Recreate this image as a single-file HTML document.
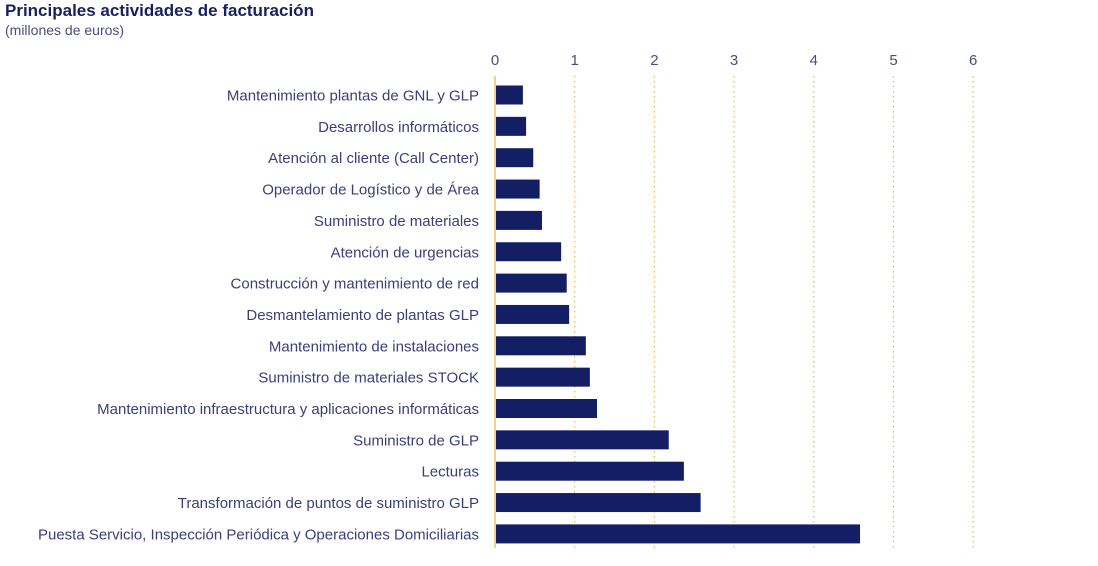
<!DOCTYPE html>
<html><head><meta charset="utf-8"><style>
body{margin:0;background:#fff;width:1098px;height:561px;overflow:hidden;font-family:"Liberation Sans",sans-serif}
</style></head><body>
<svg width="1098" height="561">
<text x="5" y="16" font-size="17" font-weight="bold" fill="#1a1f5e">Principales actividades de facturación</text>
<text x="5" y="35" font-size="14" fill="#4a4f7a">(millones de euros)</text>
<g id="g"></g>
</svg>
<script>
const categories=["Mantenimiento plantas de GNL y GLP","Desarrollos informáticos","Atención al cliente (Call Center)","Operador de Logístico y de Área","Suministro de materiales","Atención de urgencias","Construcción y mantenimiento de red","Desmantelamiento de plantas GLP","Mantenimiento de instalaciones","Suministro de materiales STOCK","Mantenimiento infraestructura y aplicaciones informáticas","Suministro de GLP","Lecturas","Transformación de puntos de suministro GLP","Puesta Servicio, Inspección Periódica y Operaciones Domiciliarias"];
const values=[0.35,0.39,0.48,0.56,0.59,0.83,0.90,0.93,1.14,1.19,1.28,2.18,2.37,2.58,4.58];
const ticks=[0,1,2,3,4,5,6];
const NS="http://www.w3.org/2000/svg";
const g=document.getElementById('g');
const x0=495,xs=79.7,y0=95,dy=31.35,bh=19;
const X=v=>x0+v*xs, Y=i=>y0+i*dy;
function mk(t,a){const e=document.createElementNS(NS,t);for(const k in a)e.setAttribute(k,a[k]);g.appendChild(e);return e;}
ticks.forEach(t=>{
 const l=mk('line',{x1:X(t),x2:X(t),y1:76,y2:548,stroke:t===0?'#f5d08a':'#f0b840','stroke-width':t===0?2:1.2,'stroke-dasharray':t===0?'':'1.5,3.5'});
 
 
 const tx=mk('text',{x:X(t),y:65,'text-anchor':'middle','font-size':15,fill:'#4a4f7a'});
 tx.textContent=t;
 
 
});
categories.forEach((c,i)=>{
 const r=mk('rect',{x:x0+1,y:Y(i)-bh/2,width:X(values[i])-x0-1,height:bh,fill:'#141e64'});
 
 
 const tx=mk('text',{x:479,y:Y(i)+5.5,'text-anchor':'end','font-size':15,fill:'#3a3f78'});
 tx.textContent=c;
 
 
});
</script>
</body></html>
